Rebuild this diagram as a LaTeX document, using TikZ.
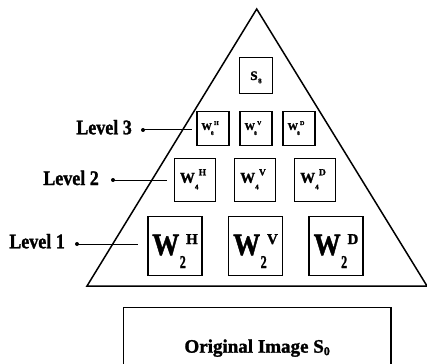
\documentclass[tikz,border=0pt]{standalone}
\usepackage{fontspec}
\setmainfont{Liberation Serif}[BoldFeatures={FakeBold=1.5}]
\newcommand{\fs}[1]{\fontsize{#1}{#1}\selectfont}
\begin{document}
\begin{tikzpicture}[x=1pt,y=-1pt,
  font=\bfseries,
  edge/.style={line width=1.5pt,line join=miter},
  wbox/.style={draw,line width=1.3pt,inner sep=0pt,text depth=0pt},
  lvl/.style={anchor=base east,inner sep=0pt},
  lead/.style={line width=1pt},
  dotc/.style={fill=black}]
\useasboundingbox (0,0) rectangle (427,363);
\clip (0,0) rectangle (427,363);
% pyramid
\coordinate (apex) at (256.7,9);
\coordinate (bl) at (87,286);
\coordinate (br) at (427,286);
\draw[edge] (apex) -- (bl) -- (br) -- cycle;
% top approximation
\node[wbox,minimum width=32.6pt,minimum height=36pt,text height=8.6pt] (s8) at (256,75.7)
  {\fs{13}S\kern0.5pt\raisebox{-3.3pt}{\fs{7}8}};
% level 3
\newcommand{\wthree}[1]{\fs{10.5}W\kern-1pt\raisebox{-5pt}{\fs{5.5}8}\kern0.3pt\raisebox{5pt}{\fs{6}#1}\kern6pt}
\node[wbox,minimum width=32pt,minimum height=34pt,text height=2.4pt] (h3) at (213,128.8) {\wthree{H}};
\node[wbox,minimum width=32pt,minimum height=34pt,text height=2.4pt] (v3) at (256,128.8) {\wthree{V}};
\node[wbox,minimum width=32pt,minimum height=34pt,text height=2.4pt] (d3) at (299,128.8) {\wthree{D}};
% level 2
\newcommand{\wtwo}[1]{\fs{15}W\raisebox{-6.6pt}{\fs{7}4}\kern0.3pt\raisebox{7.4pt}{\fs{9.5}#1}\kern4pt}
\node[wbox,minimum width=40.6pt,minimum height=43pt,text height=5pt] (h2) at (195,180.2) {\wtwo{H}};
\node[wbox,minimum width=40.6pt,minimum height=43pt,text height=5pt] (v2) at (255,180.2) {\wtwo{V}};
\node[wbox,minimum width=40.6pt,minimum height=43pt,text height=5pt] (d2) at (315,180.2) {\wtwo{D}};
% level 1
\newcommand{\wone}[1]{\scalebox{1}[1.15]{\fs{27}W}\kern0.5pt\raisebox{-13pt}{\scalebox{1}[1.5]{\fs{12}2}}\kern0.3pt\raisebox{11pt}{\fs{15}#1}}
\node[wbox,minimum width=54pt,minimum height=59pt,text height=18pt] (h1) at (175,246) {\wone{H}};
\node[wbox,minimum width=54pt,minimum height=59pt,text height=18pt] (v1) at (255.5,246) {\wone{V}};
\node[wbox,minimum width=54pt,minimum height=59pt,text height=18pt] (d1) at (336,246) {\wone{D}};
% level labels
\node[lvl] (l3) at (132,134.3) {\scalebox{1}[1.15]{\fs{18}Level 3}};
\node[lvl] (l2) at (99,185) {\scalebox{1}[1.15]{\fs{18}Level 2}};
\node[lvl] (l1) at (65,248.3) {\scalebox{1}[1.15]{\fs{18}Level 1}};
\coordinate (p3) at (143,130);
\coordinate (q3) at (192,130);
\coordinate (p2) at (113,180);
\coordinate (q2) at (167,180);
\coordinate (p1) at (77,244);
\coordinate (q1) at (138,244);
\draw[lead] (p3) -- (q3);
\draw[lead] (p2) -- (q2);
\draw[lead] (p1) -- (q1);
\fill[dotc] (p3) circle (2pt);
\fill[dotc] (p2) circle (2pt);
\fill[dotc] (p1) circle (2pt);
% original image
\node[wbox,minimum width=267.7pt,minimum height=60.7pt,text height=30pt] (orig) at (257.15,337.65)
  {\fs{19}Original Image S\raisebox{-2.5pt}{\fs{12}0}};
\end{tikzpicture}
\end{document}
